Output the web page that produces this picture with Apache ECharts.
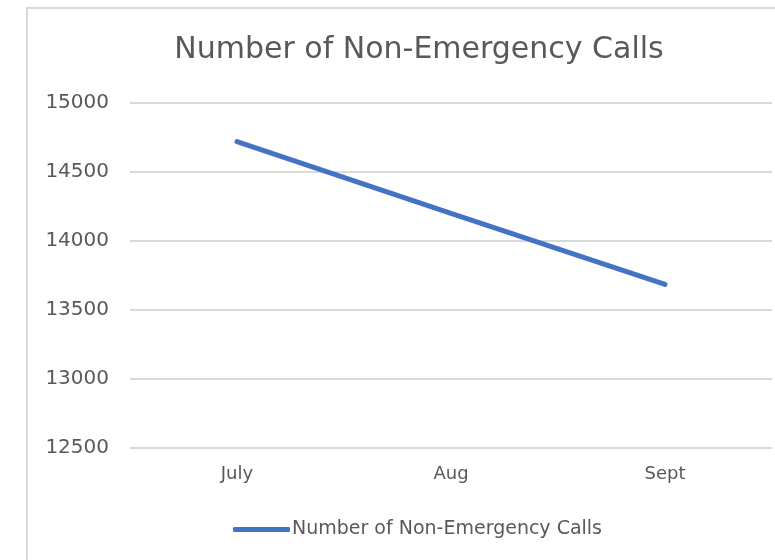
<!DOCTYPE html>
<html>
<head>
<meta charset="utf-8">
<script src="https://cdn.jsdelivr.net/npm/echarts@6/dist/echarts.min.js"></script>
<style>
html,body{margin:0;padding:0;background:#fff;}
#c{width:775px;height:560px;}
</style>
</head>
<body>
<div id="c"></div>
<script>
var titleText = 'Number of Non-Emergency Calls';
var seriesName = 'Number of Non-Emergency Calls';
var categories = ['July', 'Aug', 'Sept'];
var calls = [14720, 14200, 13685];
var yMin = 12500, yMax = 15000, yStep = 500;

var chart = echarts.init(document.getElementById('c'), null, {renderer: 'canvas'});
var font = '"DejaVu Sans", sans-serif';
chart.setOption({
  animation: false,
  backgroundColor: '#ffffff',
  graphic: [{
    type: 'rect',
    shape: {x: 27, y: 8, width: 820, height: 620},
    style: {fill: 'none', stroke: '#d9d9d9', lineWidth: 2},
    silent: true, z: -1
  }],
  title: {
    text: titleText,
    left: 414, top: 30, textAlign: 'center',
    textStyle: {fontFamily: font, fontSize: 30, fontWeight: 'normal', color: '#595959'}
  },
  legend: {
    data: [seriesName],
    left: 228, top: 515,
    icon: 'roundRect', itemWidth: 57, itemHeight: 5,
    textStyle: {fontFamily: font, fontSize: 19, color: '#595959', padding: [0,0,0,-3]}
  },
  grid: {left: 130, right: 3, top: 103, bottom: 112, containLabel: false},
  xAxis: {
    type: 'category', data: categories, boundaryGap: true,
    axisLine: {show: false}, axisTick: {show: false},
    axisLabel: {fontFamily: font, fontSize: 18, color: '#595959', margin: 17}
  },
  yAxis: {
    type: 'value', min: yMin, max: yMax, interval: yStep,
    axisLine: {show: false}, axisTick: {show: false},
    axisLabel: {fontFamily: font, fontSize: 20, color: '#595959', margin: 21,
      formatter: function (v) { return String(v); }},
    splitLine: {lineStyle: {color: '#d9d9d9', width: 2}}
  },
  series: [{
    name: seriesName, type: 'line', data: calls,
    symbol: 'none',
    lineStyle: {color: '#4472C4', width: 5, cap: 'round'},
    itemStyle: {color: '#4472C4'}
  }]
});
</script>
</body>
</html>
